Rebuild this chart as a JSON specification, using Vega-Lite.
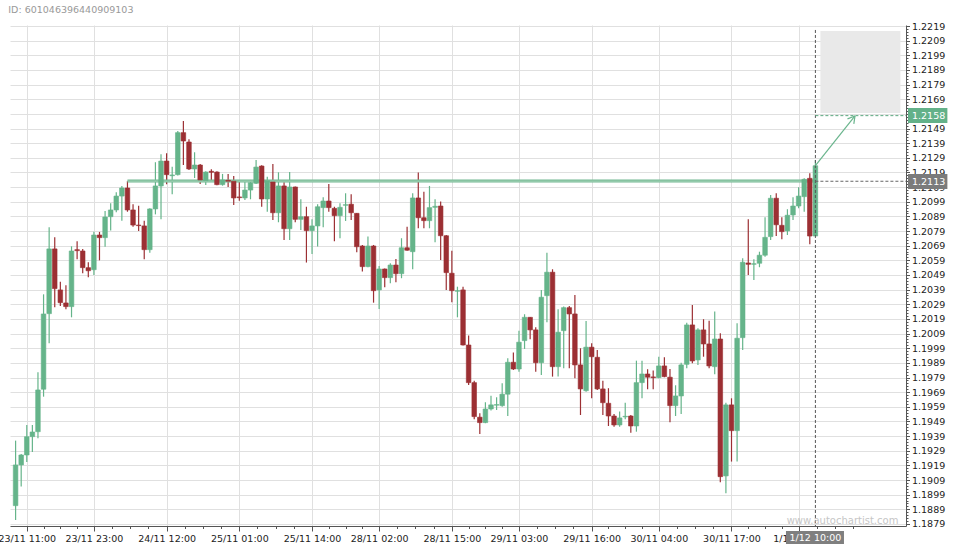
{
"$schema": "https://vega.github.io/schema/vega-lite/v6.json",
"width": 896, "height": 501,
"autosize": {"type": "none"},
"padding": {"left": 10, "top": 25, "right": 54, "bottom": 24},
"background": "white",
"config": {"font": "DejaVu Sans", "view": {"stroke": null}},
"datasets": {
"candles": [
{"i":0,"o":1.18915,"h":1.19359,"l":1.18817,"c":1.19193},
{"i":1,"o":1.19193,"h":1.19268,"l":1.19045,"c":1.19261},
{"i":2,"o":1.19261,"h":1.19466,"l":1.19213,"c":1.19386},
{"i":3,"o":1.19386,"h":1.19466,"l":1.19282,"c":1.19418},
{"i":4,"o":1.19420,"h":1.19826,"l":1.19375,"c":1.19705},
{"i":5,"o":1.19710,"h":1.20358,"l":1.19659,"c":1.20224},
{"i":6,"o":1.20226,"h":1.20816,"l":1.20024,"c":1.20668},
{"i":7,"o":1.20668,"h":1.20747,"l":1.20270,"c":1.20397},
{"i":8,"o":1.20388,"h":1.20444,"l":1.20278,"c":1.20301},
{"i":9,"o":1.20299,"h":1.20420,"l":1.20256,"c":1.20274},
{"i":10,"o":1.20274,"h":1.20686,"l":1.20201,"c":1.20654},
{"i":11,"o":1.20663,"h":1.20720,"l":1.20597,"c":1.20656},
{"i":12,"o":1.20654,"h":1.20668,"l":1.20502,"c":1.20540},
{"i":13,"o":1.20540,"h":1.20577,"l":1.20474,"c":1.20519},
{"i":14,"o":1.20526,"h":1.20786,"l":1.20490,"c":1.20763},
{"i":15,"o":1.20763,"h":1.20784,"l":1.20590,"c":1.20745},
{"i":16,"o":1.20745,"h":1.20927,"l":1.20683,"c":1.20886},
{"i":17,"o":1.20888,"h":1.20980,"l":1.20793,"c":1.20934},
{"i":18,"o":1.20934,"h":1.21055,"l":1.20918,"c":1.21029},
{"i":19,"o":1.21029,"h":1.21098,"l":1.20861,"c":1.21084},
{"i":20,"o":1.21084,"h":1.21132,"l":1.20922,"c":1.20934},
{"i":21,"o":1.20934,"h":1.20973,"l":1.20820,"c":1.20831},
{"i":22,"o":1.20831,"h":1.20963,"l":1.20791,"c":1.20827},
{"i":23,"o":1.20825,"h":1.20861,"l":1.20597,"c":1.20663},
{"i":24,"o":1.20663,"h":1.20945,"l":1.20642,"c":1.20941},
{"i":25,"o":1.20941,"h":1.21260,"l":1.20904,"c":1.21098},
{"i":26,"o":1.21098,"h":1.21314,"l":1.20870,"c":1.21268},
{"i":27,"o":1.21268,"h":1.21321,"l":1.21109,"c":1.21175},
{"i":28,"o":1.21168,"h":1.21229,"l":1.21041,"c":1.21173},
{"i":29,"o":1.21175,"h":1.21473,"l":1.21169,"c":1.21462},
{"i":30,"o":1.21462,"h":1.21541,"l":1.21241,"c":1.21405},
{"i":31,"o":1.21398,"h":1.21417,"l":1.21207,"c":1.21214},
{"i":32,"o":1.21214,"h":1.21328,"l":1.21152,"c":1.21241},
{"i":33,"o":1.21241,"h":1.21248,"l":1.21111,"c":1.21139},
{"i":34,"o":1.21134,"h":1.21198,"l":1.21105,"c":1.21193},
{"i":35,"o":1.21198,"h":1.21212,"l":1.21130,"c":1.21191},
{"i":36,"o":1.21193,"h":1.21198,"l":1.21102,"c":1.21107},
{"i":37,"o":1.21107,"h":1.21180,"l":1.21100,"c":1.21139},
{"i":38,"o":1.21137,"h":1.21180,"l":1.21091,"c":1.21130},
{"i":39,"o":1.21130,"h":1.21166,"l":1.20968,"c":1.21016},
{"i":40,"o":1.21023,"h":1.21127,"l":1.20997,"c":1.21018},
{"i":41,"o":1.21016,"h":1.21127,"l":1.21002,"c":1.21070},
{"i":42,"o":1.21070,"h":1.21139,"l":1.21007,"c":1.21120},
{"i":43,"o":1.21116,"h":1.21275,"l":1.21111,"c":1.21227},
{"i":44,"o":1.21234,"h":1.21239,"l":1.20956,"c":1.21009},
{"i":45,"o":1.21009,"h":1.21161,"l":1.20922,"c":1.21134},
{"i":46,"o":1.21125,"h":1.21248,"l":1.20866,"c":1.20915},
{"i":47,"o":1.20915,"h":1.21191,"l":1.20850,"c":1.21098},
{"i":48,"o":1.21098,"h":1.21123,"l":1.20729,"c":1.20806},
{"i":49,"o":1.20806,"h":1.21193,"l":1.20729,"c":1.21091},
{"i":50,"o":1.21091,"h":1.21094,"l":1.20850,"c":1.20870},
{"i":51,"o":1.20870,"h":1.21007,"l":1.20797,"c":1.20888},
{"i":52,"o":1.20888,"h":1.20956,"l":1.20575,"c":1.20793},
{"i":53,"o":1.20793,"h":1.20870,"l":1.20633,"c":1.20825},
{"i":54,"o":1.20825,"h":1.20973,"l":1.20685,"c":1.20956},
{"i":55,"o":1.20950,"h":1.21021,"l":1.20816,"c":1.20995},
{"i":56,"o":1.20995,"h":1.21111,"l":1.20922,"c":1.20950},
{"i":57,"o":1.20945,"h":1.20956,"l":1.20720,"c":1.20895},
{"i":58,"o":1.20895,"h":1.20980,"l":1.20741,"c":1.20952},
{"i":59,"o":1.20966,"h":1.21048,"l":1.20859,"c":1.20970},
{"i":60,"o":1.20973,"h":1.21041,"l":1.20866,"c":1.20915},
{"i":61,"o":1.20911,"h":1.20913,"l":1.20645,"c":1.20683},
{"i":62,"o":1.20688,"h":1.20695,"l":1.20513,"c":1.20547},
{"i":63,"o":1.20547,"h":1.20752,"l":1.20543,"c":1.20688},
{"i":64,"o":1.20688,"h":1.20695,"l":1.20301,"c":1.20383},
{"i":65,"o":1.20388,"h":1.20552,"l":1.20258,"c":1.20531},
{"i":66,"o":1.20531,"h":1.20534,"l":1.20406,"c":1.20472},
{"i":67,"o":1.20472,"h":1.20570,"l":1.20433,"c":1.20558},
{"i":68,"o":1.20558,"h":1.20599,"l":1.20440,"c":1.20499},
{"i":69,"o":1.20499,"h":1.20741,"l":1.20468,"c":1.20676},
{"i":70,"o":1.20676,"h":1.20820,"l":1.20656,"c":1.20659},
{"i":71,"o":1.20649,"h":1.21048,"l":1.20529,"c":1.21016},
{"i":72,"o":1.21016,"h":1.21189,"l":1.20809,"c":1.20881},
{"i":73,"o":1.20881,"h":1.21059,"l":1.20809,"c":1.20861},
{"i":74,"o":1.20861,"h":1.21098,"l":1.20809,"c":1.20950},
{"i":75,"o":1.20952,"h":1.21007,"l":1.20713,"c":1.20959},
{"i":76,"o":1.20961,"h":1.20991,"l":1.20592,"c":1.20758},
{"i":77,"o":1.20758,"h":1.20763,"l":1.20388,"c":1.20506},
{"i":78,"o":1.20502,"h":1.20656,"l":1.20304,"c":1.20383},
{"i":79,"o":1.20379,"h":1.20410,"l":1.20201,"c":1.20383},
{"i":80,"o":1.20388,"h":1.20410,"l":1.20009,"c":1.20012},
{"i":81,"o":1.20012,"h":1.20076,"l":1.19739,"c":1.19755},
{"i":82,"o":1.19755,"h":1.19768,"l":1.19505,"c":1.19523},
{"i":83,"o":1.19519,"h":1.19546,"l":1.19405,"c":1.19482},
{"i":84,"o":1.19482,"h":1.19621,"l":1.19478,"c":1.19575},
{"i":85,"o":1.19575,"h":1.19666,"l":1.19564,"c":1.19603},
{"i":86,"o":1.19601,"h":1.19655,"l":1.19568,"c":1.19605},
{"i":87,"o":1.19598,"h":1.19751,"l":1.19591,"c":1.19676},
{"i":88,"o":1.19676,"h":1.19921,"l":1.19527,"c":1.19894},
{"i":89,"o":1.19894,"h":1.19960,"l":1.19842,"c":1.19848},
{"i":90,"o":1.19848,"h":1.20110,"l":1.19830,"c":1.20031},
{"i":91,"o":1.20042,"h":1.20222,"l":1.19985,"c":1.20201},
{"i":92,"o":1.20201,"h":1.20203,"l":1.20051,"c":1.20115},
{"i":93,"o":1.20115,"h":1.20133,"l":1.19830,"c":1.19891},
{"i":94,"o":1.19891,"h":1.20388,"l":1.19807,"c":1.20338},
{"i":95,"o":1.20349,"h":1.20642,"l":1.20167,"c":1.20509},
{"i":96,"o":1.20509,"h":1.20529,"l":1.19796,"c":1.19864},
{"i":97,"o":1.19864,"h":1.20256,"l":1.19796,"c":1.20099},
{"i":98,"o":1.20110,"h":1.20274,"l":1.19853,"c":1.20267},
{"i":99,"o":1.20267,"h":1.20278,"l":1.19853,"c":1.20224},
{"i":100,"o":1.20224,"h":1.20354,"l":1.19785,"c":1.19876},
{"i":101,"o":1.19876,"h":1.19990,"l":1.19534,"c":1.19712},
{"i":102,"o":1.19700,"h":1.20176,"l":1.19693,"c":1.19997},
{"i":103,"o":1.19997,"h":1.20024,"l":1.19648,"c":1.19932},
{"i":104,"o":1.19928,"h":1.19978,"l":1.19705,"c":1.19712},
{"i":105,"o":1.19712,"h":1.19768,"l":1.19534,"c":1.19618},
{"i":106,"o":1.19614,"h":1.19717,"l":1.19459,"c":1.19527},
{"i":107,"o":1.19527,"h":1.19541,"l":1.19454,"c":1.19466},
{"i":108,"o":1.19466,"h":1.19557,"l":1.19454,"c":1.19514},
{"i":109,"o":1.19521,"h":1.19618,"l":1.19505,"c":1.19525},
{"i":110,"o":1.19527,"h":1.19534,"l":1.19413,"c":1.19459},
{"i":111,"o":1.19459,"h":1.19905,"l":1.19420,"c":1.19755},
{"i":112,"o":1.19755,"h":1.19905,"l":1.19648,"c":1.19814},
{"i":113,"o":1.19814,"h":1.19846,"l":1.19710,"c":1.19792},
{"i":114,"o":1.19794,"h":1.19837,"l":1.19710,"c":1.19789},
{"i":115,"o":1.19789,"h":1.19932,"l":1.19785,"c":1.19869},
{"i":116,"o":1.19869,"h":1.19928,"l":1.19792,"c":1.19796},
{"i":117,"o":1.19792,"h":1.19848,"l":1.19484,"c":1.19598},
{"i":118,"o":1.19598,"h":1.19737,"l":1.19527,"c":1.19664},
{"i":119,"o":1.19664,"h":1.19891,"l":1.19541,"c":1.19876},
{"i":120,"o":1.19880,"h":1.20164,"l":1.19853,"c":1.20149},
{"i":121,"o":1.20149,"h":1.20285,"l":1.19887,"c":1.19903},
{"i":122,"o":1.19910,"h":1.20126,"l":1.19876,"c":1.20115},
{"i":123,"o":1.20115,"h":1.20188,"l":1.19932,"c":1.20019},
{"i":124,"o":1.20019,"h":1.20178,"l":1.19853,"c":1.19869},
{"i":125,"o":1.19864,"h":1.20240,"l":1.19812,"c":1.20053},
{"i":126,"o":1.20053,"h":1.20092,"l":1.19075,"c":1.19113},
{"i":127,"o":1.19118,"h":1.19618,"l":1.19000,"c":1.19603},
{"i":128,"o":1.19603,"h":1.19648,"l":1.19216,"c":1.19427},
{"i":129,"o":1.19427,"h":1.20160,"l":1.19216,"c":1.20058},
{"i":130,"o":1.20062,"h":1.20604,"l":1.19978,"c":1.20577},
{"i":131,"o":1.20572,"h":1.20870,"l":1.20490,"c":1.20563},
{"i":132,"o":1.20563,"h":1.20597,"l":1.20456,"c":1.20567},
{"i":133,"o":1.20570,"h":1.20649,"l":1.20543,"c":1.20625},
{"i":134,"o":1.20625,"h":1.20884,"l":1.20615,"c":1.20747},
{"i":135,"o":1.20752,"h":1.21036,"l":1.20729,"c":1.21014},
{"i":136,"o":1.21014,"h":1.21048,"l":1.20756,"c":1.20833},
{"i":137,"o":1.20829,"h":1.20884,"l":1.20734,"c":1.20786},
{"i":138,"o":1.20791,"h":1.20939,"l":1.20763,"c":1.20898},
{"i":139,"o":1.20900,"h":1.21021,"l":1.20866,"c":1.20961},
{"i":140,"o":1.20961,"h":1.21089,"l":1.20945,"c":1.21029},
{"i":141,"o":1.21025,"h":1.21150,"l":1.20922,"c":1.21143},
{"i":142,"o":1.21150,"h":1.21184,"l":1.20700,"c":1.20756},
{"i":143,"o":1.20756,"h":1.21275,"l":1.20756,"c":1.21236}
]
},
"layer": [
{
"data": {"values": [{"x1": 143.9, "x2": 158.2, "y1": 1.21596, "y2": 1.22156}]},
"mark": {"type": "rect", "fill": "#e9e9e9"},
"encoding": {
"x": {"field": "x1", "type": "quantitative", "scale": {"domain": [-1, 159.2], "nice": false, "zero": false, "padding": 0},
 "axis": {"orient": "bottom", "title": null, "tickCount": 1000,
  "values": [2,5,8,11,14,17.25,20.5,23.75,27,30.25,33.5,36.75,40,43.25,46.5,49.75,53,56,59,62,65,68.25,71.5,74.75,78,81,84,87,90,93.25,96.5,99.75,103,106,109,112,115,118.25,121.5,124.75,128,131,134,137,140,143.25,146.5,149.75],
  "labelExpr": "datum.value==2?'23/11 11:00':datum.value==14?'23/11 23:00':datum.value==27?'24/11 12:00':datum.value==40?'25/11 01:00':datum.value==53?'25/11 14:00':datum.value==65?'28/11 02:00':datum.value==78?'28/11 15:00':datum.value==90?'29/11 03:00':datum.value==103?'29/11 16:00':datum.value==115?'30/11 04:00':datum.value==128?'30/11 17:00':datum.value==140?'1/12 05:00':''",
  "labelFlush": false, "labelOverlap": false, "labelBound": false,
  "labelFont": "DejaVu Sans", "labelFontSize": 9.5, "labelColor": "#222", "labelPadding": 2,
  "tickColor": "#555",
  "tickSize": {"condition": {"test": "indexof([2,14,27,40,53,65,78,90,103,115,128,140], datum.value) >= 0", "value": 5}, "value": 2.5},
  "grid": true, "gridColor": "#e0e0e0",
  "gridOpacity": {"condition": {"test": "indexof([2,14,27,40,53,65,78,90,103,115,128,140], datum.value) >= 0", "value": 1}, "value": 0},
  "domainColor": "#555"}},
"x2": {"field": "x2"},
"y": {"field": "y1", "type": "quantitative", "scale": {"domain": [1.18776, 1.22197], "nice": false, "zero": false, "padding": 0},
 "axis": {"orient": "right", "title": null, "tickCount": 1000,
  "values": [1.1879,1.1881,1.1883,1.1885,1.1887,1.1889,1.1891,1.1893,1.1895,1.1897,1.1899,1.1901,1.1903,1.1905,1.1907,1.1909,1.1911,1.1913,1.1915,1.1917,1.1919,1.1921,1.1923,1.1925,1.1927,1.1929,1.1931,1.1933,1.1935,1.1937,1.1939,1.1941,1.1943,1.1945,1.1947,1.1949,1.1951,1.1953,1.1955,1.1957,1.1959,1.1961,1.1963,1.1965,1.1967,1.1969,1.1971,1.1973,1.1975,1.1977,1.1979,1.1981,1.1983,1.1985,1.1987,1.1989,1.1991,1.1993,1.1995,1.1997,1.1999,1.2001,1.2003,1.2005,1.2007,1.2009,1.2011,1.2013,1.2015,1.2017,1.2019,1.2021,1.2023,1.2025,1.2027,1.2029,1.2031,1.2033,1.2035,1.2037,1.2039,1.2041,1.2043,1.2045,1.2047,1.2049,1.2051,1.2053,1.2055,1.2057,1.2059,1.2061,1.2063,1.2065,1.2067,1.2069,1.2071,1.2073,1.2075,1.2077,1.2079,1.2081,1.2083,1.2085,1.2087,1.2089,1.2091,1.2093,1.2095,1.2097,1.2099,1.2101,1.2103,1.2105,1.2107,1.2109,1.2111,1.2113,1.2115,1.2117,1.2119,1.2121,1.2123,1.2125,1.2127,1.2129,1.2131,1.2133,1.2135,1.2137,1.2139,1.2141,1.2143,1.2145,1.2147,1.2149,1.2151,1.2153,1.2155,1.2157,1.2159,1.2161,1.2163,1.2165,1.2167,1.2169,1.2171,1.2173,1.2175,1.2177,1.2179,1.2181,1.2183,1.2185,1.2187,1.2189,1.2191,1.2193,1.2195,1.2197,1.2199,1.2201,1.2203,1.2205,1.2207,1.2209,1.2211,1.2213,1.2215,1.2217,1.2219],
  "labelExpr": "round(datum.value*10000) % 10 == 9 ? format(datum.value, '.4f') : ''",
  "labelFlush": false, "labelOverlap": false, "labelBound": false,
  "labelFont": "DejaVu Sans", "labelFontSize": 9.5, "labelColor": "#222", "labelPadding": 2,
  "tickColor": "#555",
  "tickSize": {"condition": {"test": "round(datum.value*10000) % 10 == 9", "value": 3.5}, "value": 2},
  "grid": true, "gridColor": "#e0e0e0",
  "gridOpacity": {"condition": {"test": "round(datum.value*10000) % 10 == 9", "value": 1}, "value": 0},
  "domainColor": "#555"}},
"y2": {"field": "y2"}
}
},
{
"data": {"name": "candles"},
"mark": {"type": "rule", "strokeWidth": 1.2},
"encoding": {
"x": {"field": "i", "type": "quantitative", "axis": {"title": null}},
"y": {"field": "l", "type": "quantitative", "axis": {"title": null}},
"y2": {"field": "h"},
"color": {"condition": {"test": "datum.c >= datum.o", "value": "#65b48a"}, "value": "#9c2f33"}
}
},
{
"data": {"values": [{"x1": 20, "x2": 143, "y": 1.21131}]},
"mark": {"type": "rule", "strokeWidth": 3, "color": "#72b891"},
"encoding": {"x": {"field": "x1", "type": "quantitative", "axis": {"title": null}}, "x2": {"field": "x2"}, "y": {"field": "y", "type": "quantitative", "axis": {"title": null}}}
},
{
"data": {"values": [{"x1": 20, "x2": 143, "y": 1.21131}]},
"mark": {"type": "rule", "strokeWidth": 1, "color": "#a9d6bc"},
"encoding": {"x": {"field": "x1", "type": "quantitative", "axis": {"title": null}}, "x2": {"field": "x2"}, "y": {"field": "y", "type": "quantitative", "axis": {"title": null}}}
},
{
"data": {"name": "candles"},
"mark": {"type": "bar", "width": 4.6, "strokeWidth": 0.6},
"encoding": {
"x": {"field": "i", "type": "quantitative", "axis": {"title": null}},
"y": {"field": "o", "type": "quantitative", "axis": {"title": null}},
"y2": {"field": "c"},
"color": {"condition": {"test": "datum.c >= datum.o", "value": "#65b48a"}, "value": "#9c2f33"},
"stroke": {"condition": {"test": "datum.c >= datum.o", "value": "#65b48a"}, "value": "#9c2f33"}
}
},
{
"data": {"values": [{"x": 143, "y1": 1.22163, "y2": 1.18776}]},
"mark": {"type": "rule", "strokeWidth": 1, "color": "#555", "strokeDash": [3, 2]},
"encoding": {"x": {"field": "x", "type": "quantitative", "axis": {"title": null}}, "y": {"field": "y1", "type": "quantitative", "axis": {"title": null}}, "y2": {"field": "y2"}}
},
{
"data": {"values": [{"x1": 143, "x2": 159.2, "y": 1.2113}]},
"mark": {"type": "rule", "strokeWidth": 1, "color": "#666", "strokeDash": [3, 2]},
"encoding": {"x": {"field": "x1", "type": "quantitative", "axis": {"title": null}}, "x2": {"field": "x2"}, "y": {"field": "y", "type": "quantitative", "axis": {"title": null}}}
},
{
"data": {"values": [{"x1": 143, "x2": 159.2, "y": 1.21578}]},
"mark": {"type": "rule", "strokeWidth": 1, "color": "#5aa87f", "strokeDash": [3, 2]},
"encoding": {"x": {"field": "x1", "type": "quantitative", "axis": {"title": null}}, "x2": {"field": "x2"}, "y": {"field": "y", "type": "quantitative", "axis": {"title": null}}}
},
{
"data": {"values": [
 {"x1": 143, "y1": 1.21236, "x2": 150.08, "y2": 1.21576},
 {"x1": 148.74, "y1": 1.21556, "x2": 150.08, "y2": 1.21576},
 {"x1": 149.87, "y1": 1.21522, "x2": 150.08, "y2": 1.21576}]},
"mark": {"type": "rule", "strokeWidth": 1.2, "color": "#6ab58d"},
"encoding": {"x": {"field": "x1", "type": "quantitative", "axis": {"title": null}}, "x2": {"field": "x2"}, "y": {"field": "y1", "type": "quantitative", "axis": {"title": null}}, "y2": {"field": "y2"}}
},
{
"data": {"values": [{"x1": 159.56, "x2": 166.6, "y1": 1.21528, "y2": 1.21630}]},
"mark": {"type": "rect", "fill": "#63b189"},
"encoding": {"x": {"field": "x1", "type": "quantitative", "axis": {"title": null}}, "x2": {"field": "x2"}, "y": {"field": "y1", "type": "quantitative", "axis": {"title": null}}, "y2": {"field": "y2"}}
},
{
"data": {"values": [{"x1": 159.56, "x2": 166.6, "y1": 1.21077, "y2": 1.21180}]},
"mark": {"type": "rect", "fill": "#7b7b7b"},
"encoding": {"x": {"field": "x1", "type": "quantitative", "axis": {"title": null}}, "x2": {"field": "x2"}, "y": {"field": "y1", "type": "quantitative", "axis": {"title": null}}, "y2": {"field": "y2"}}
},
{
"data": {"values": [{"x1": 137.74, "x2": 148.11, "y1": 1.18653, "y2": 1.18742}]},
"mark": {"type": "rect", "fill": "#7f7f7f"},
"encoding": {"x": {"field": "x1", "type": "quantitative", "axis": {"title": null}}, "x2": {"field": "x2"}, "y": {"field": "y1", "type": "quantitative", "axis": {"title": null}}, "y2": {"field": "y2"}}
},
{
"data": {"values": [{"x": 160.27, "y": 1.21578, "t": "1.2158"}, {"x": 160.27, "y": 1.21128, "t": "1.2113"}]},
"mark": {"type": "text", "align": "left", "baseline": "middle", "fontSize": 9.5, "font": "DejaVu Sans", "color": "white"},
"encoding": {"x": {"field": "x", "type": "quantitative", "axis": {"title": null}}, "y": {"field": "y", "type": "quantitative", "axis": {"title": null}}, "text": {"field": "t"}}
},
{
"data": {"values": [{"x": 143, "y": 1.18697, "t": "1/12 10:00"}]},
"mark": {"type": "text", "align": "center", "baseline": "middle", "fontSize": 9.5, "font": "DejaVu Sans", "color": "white"},
"encoding": {"x": {"field": "x", "type": "quantitative", "axis": {"title": null}}, "y": {"field": "y", "type": "quantitative", "axis": {"title": null}}, "text": {"field": "t"}}
},
{
"data": {"values": [{"x": 147.85, "y": 1.18810, "t": "www.autochartist.com"}]},
"mark": {"type": "text", "align": "center", "baseline": "middle", "fontSize": 10, "font": "DejaVu Sans", "color": "#c6c6c6"},
"encoding": {"x": {"field": "x", "type": "quantitative", "axis": {"title": null}}, "y": {"field": "y", "type": "quantitative", "axis": {"title": null}}, "text": {"field": "t"}}
},
{
"data": {"values": [{"x": -1.3, "y": 1.22299, "t": "ID: 601046396440909103"}]},
"mark": {"type": "text", "align": "left", "baseline": "middle", "fontSize": 9.5, "font": "DejaVu Sans", "color": "#999"},
"encoding": {"x": {"field": "x", "type": "quantitative", "axis": {"title": null}}, "y": {"field": "y", "type": "quantitative", "axis": {"title": null}}, "text": {"field": "t"}}
}
]
}
